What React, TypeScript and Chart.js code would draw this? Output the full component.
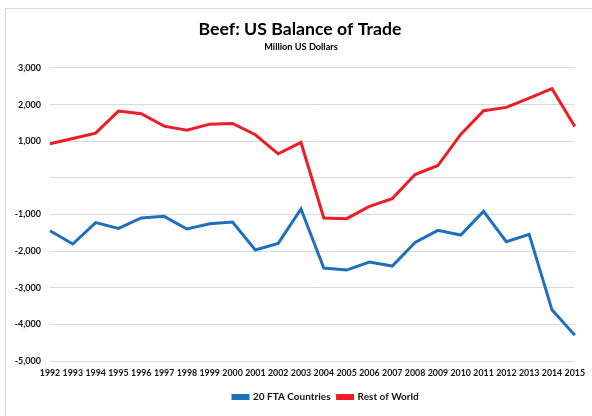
import React, { useEffect, useRef } from "react";
import { Chart, registerables } from "chart.js";

Chart.register(...registerables);

const years = [
  "1992", "1993", "1994", "1995", "1996", "1997", "1998", "1999", "2000", "2001", "2002", "2003",
  "2004", "2005", "2006", "2007", "2008", "2009", "2010", "2011", "2012", "2013", "2014", "2015",
];

const ftaCountries = [
  -1442, -1806, -1223, -1379, -1095, -1050, -1396, -1251, -1204, -1971, -1790, -849,
  -2463, -2518, -2299, -2408, -1762, -1434, -1560, -914, -1743, -1543, -3604, -4297,
];

const restOfWorld = [
  930, 1075, 1220, 1823, 1750, 1412, 1303, 1467, 1486, 1177, 657, 966,
  -1095, -1114, -777, -566, 90, 337, 1185, 1833, 1924, 2178, 2435, 1404,
];

const seriesNames = ["20 FTA Countries", "Rest of World"];
const titleText = "Beef: US Balance of Trade";
const subtitleText = "Million US Dollars";

const FONT = "Lato, 'Open Sans', sans-serif";
const TEXT = "#111111";

const positionPlugin = {
  id: "positionTweaks",
  afterLayout(chart: any) {
    for (const box of chart.boxes) {
      if (box === chart.legend) {
        const pad = box.options.labels.padding;
        const start = (box.left + pad + box.right - box.lineWidths[0]) / 2;
        const shift = 233 - start;
        box.left += shift;
        box.right += shift;
      } else if (box.options && box.options.text === titleText) {
        const shift = 300 - (box.left + box.right) / 2;
        box.left += shift;
        box.right += shift;
      } else if (box.options && box.options.text === subtitleText) {
        const shift = 301 - (box.left + box.right) / 2;
        box.left += shift;
        box.right += shift;
      }
    }
  },
};

export default function App() {
  const canvasRef = useRef<HTMLCanvasElement | null>(null);

  useEffect(() => {
    if (!canvasRef.current) return;
    const chart = new Chart(canvasRef.current, {
      type: "line",
      data: {
        labels: years,
        datasets: [
          {
            label: seriesNames[0],
            data: ftaCountries,
            borderColor: "#1f6fbf",
            backgroundColor: "#1f6fbf",
            borderWidth: 3,
            pointRadius: 0,
            tension: 0,
          },
          {
            label: seriesNames[1],
            data: restOfWorld,
            borderColor: "#ee1c25",
            backgroundColor: "#ee1c25",
            borderWidth: 3,
            pointRadius: 0,
            tension: 0,
          },
        ],
      },
      options: {
        animation: false,
        responsive: false,
        devicePixelRatio: 1,
        layout: { padding: { left: 0, right: 16, top: 0, bottom: 4 } },
        plugins: {
          title: {
            display: true,
            text: titleText,
            color: "#000",
            font: { family: FONT, size: 17.7, weight: "bold" },
            padding: { top: 18.5, bottom: 1.5 },
          },
          subtitle: {
            display: true,
            text: subtitleText,
            color: "#000",
            font: { family: FONT, size: 9.2, weight: "bold" },
            padding: { top: 0, bottom: 15.7 },
          },
          legend: {
            position: "bottom",
            labels: {
              color: TEXT,
              font: { family: FONT, size: 10, weight: "bold" },
              boxWidth: 15,
              boxHeight: 3,
              padding: 7,
            },
          },
          tooltip: { enabled: false },
        },
        scales: {
          x: {
            offset: false,
            grid: { display: false, drawTicks: false },
            border: { display: false },
            ticks: {
              color: TEXT,
              font: { family: FONT, size: 8.8, weight: "bold" },
              maxRotation: 0,
              autoSkip: false,
              padding: 7,
            },
            afterFit: (scale: any) => {
              scale.height = 24;
            },
          },
          y: {
            min: -5000,
            max: 3000,
            grid: { color: "#d9d9d9", lineWidth: 1, drawTicks: false },
            border: { display: false },
            ticks: {
              stepSize: 1000,
              color: TEXT,
              font: { family: FONT, size: 9, weight: "bold" },
              padding: 9,
              callback: (v: any) => (Number(v) === 0 ? "" : Number(v).toLocaleString("en-US")),
            },
            afterFit: (scale: any) => {
              scale.width = 50;
            },
          },
        },
      },
      plugins: [positionPlugin],
    });
    return () => chart.destroy();
  }, []);

  return (
    <div style={{ position: "fixed", left: 0, top: 0, width: 592, height: 416, overflow: "hidden", background: "#fff" }}>
      <div
        style={{
          position: "absolute",
          left: 5,
          top: 8,
          width: 700,
          height: 600,
          border: "1px solid #d9d9d9",
          boxSizing: "border-box",
        }}
      />
      <canvas ref={canvasRef} width={592} height={416} style={{ position: "absolute", left: 0, top: 0 }} />
    </div>
  );
}
